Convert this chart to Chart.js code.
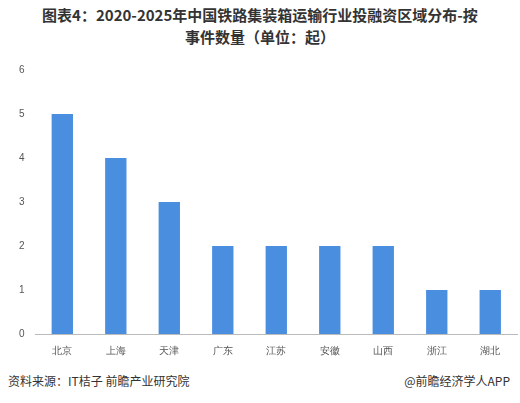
<!DOCTYPE html>
<html><head><meta charset="utf-8">
<script src="https://cdn.jsdelivr.net/npm/chart.js@4"></script>
<style>
body{margin:0;width:520px;height:403px;background:#fff;font-family:"Noto Sans CJK SC",sans-serif;position:relative;overflow:hidden}
#t{position:absolute;top:4px;left:0;width:520px;text-align:center;font-weight:bold;font-size:15px;line-height:22px;color:#333}
#c{position:absolute;left:0;top:55px;width:520px;height:305px}
#f1{position:absolute;left:8px;top:372px;font-size:12px;color:#333}
#f2{position:absolute;right:10px;top:372px;font-size:12px;color:#333}
</style></head><body>
<div id="t">图表4：2020-2025年中国铁路集装箱运输行业投融资区域分布-按<br>事件数量（单位：起）</div>
<div id="c"><canvas id="cv"></canvas></div>
<div id="f1">资料来源：IT桔子 前瞻产业研究院</div>
<div id="f2">@前瞻经济学人APP</div>
<script>
const categories=["北京","上海","天津","广东","江苏","安徽","山西","浙江","湖北"];
const values=[5,4,3,2,2,2,2,1,1];
new Chart(document.getElementById('cv'),{type:'bar',
data:{labels:categories,datasets:[{data:values,backgroundColor:'#4a8ee0',barPercentage:0.42,categoryPercentage:0.95}]},
options:{responsive:true,maintainAspectRatio:false,animation:false,
layout:{padding:{left:16,right:3,top:15,bottom:0}},
plugins:{legend:{display:false},tooltip:{enabled:false}},
scales:{y:{min:0,max:6,ticks:{stepSize:1,color:'#555',font:{size:10}},grid:{display:false},border:{display:false}},
x:{ticks:{color:'#555',font:{size:10}},grid:{display:false},border:{color:'#bbb'}}}}});
</script></body></html>
